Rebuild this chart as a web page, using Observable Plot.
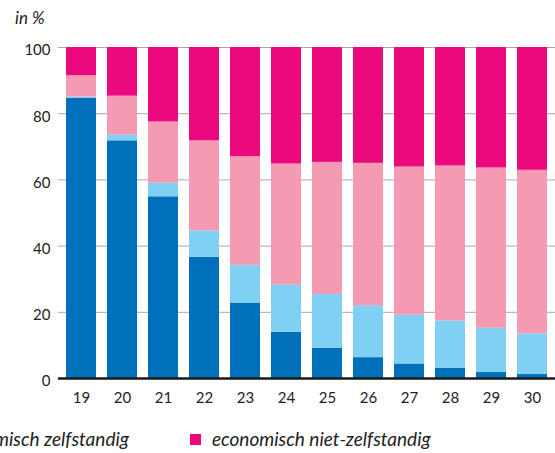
<!DOCTYPE html>
<html>
<head>
<meta charset="utf-8">
<script src="https://cdn.jsdelivr.net/npm/d3@7"></script>
<script src="https://cdn.jsdelivr.net/npm/@observablehq/plot@0.6"></script>
<style>
  html, body { margin: 0; padding: 0; background: #fff; overflow: hidden; }
  body { width: 555px; height: 453px; position: relative; font-family: Lato, sans-serif; color: #222; }
  #unit { position: absolute; left: 15px; top: 8px; font-style: italic; font-size: 17px; line-height: 20px; }
  #chart { position: absolute; left: 0; top: 0; }
  .item { position: absolute; top: 428px; white-space: nowrap; font-style: italic; font-size: 19px; line-height: 22px; display: flex; align-items: center; }
  .sw { width: 11px; height: 11px; display: inline-block; margin-right: 11px; }
</style>
</head>
<body>
<div id="unit">in %</div>
<div id="chart"></div>
<script>
const ages = ["19","20","21","22","23","24","25","26","27","28","29","30"];
const seriesNames = ["economisch zelfstandig", "categorie 2", "categorie 3", "economisch niet-zelfstandig"];
const darkBlue = [84.7, 71.8, 54.9, 36.6, 22.8, 14.0, 9.1, 6.3, 4.4, 3.1, 1.8, 1.2];
const lightBlue = [0.3, 1.7, 4.1, 8.0, 11.4, 14.2, 16.3, 15.7, 14.7, 14.3, 13.4, 12.3];
const pink = [6.5, 11.8, 18.5, 27.2, 32.8, 36.6, 39.9, 43.0, 44.8, 46.8, 48.4, 49.4];
const magenta = [8.5, 14.7, 22.5, 28.2, 33.0, 35.2, 34.7, 35.0, 36.1, 35.8, 36.4, 37.1];
const yTicks = [0, 20, 40, 60, 80, 100];
const colors = ["#0070ba", "#7fd0f3", "#f49ab2", "#ec087d"];

const seriesValues = [darkBlue, lightBlue, pink, magenta];
const data = [];
seriesNames.forEach((s, i) => ages.forEach((a, j) => data.push({age: a, serie: s, value: seriesValues[i][j]})));

const chart = Plot.plot({
  width: 555,
  height: 415,
  marginLeft: 58,
  marginRight: 0,
  marginTop: 47,
  marginBottom: 37,
  style: {fontFamily: "Lato, sans-serif", fontSize: "15px", color: "#222"},
  x: {domain: ages, paddingInner: 0.27, paddingOuter: 0.15, label: null},
  y: {domain: [0, 100], label: null},
  color: {domain: seriesNames, range: colors},
  marks: [
    Plot.gridY(yTicks, {stroke: "#a8a8a8", strokeOpacity: 1, strokeWidth: 1}),
    Plot.barY(data, {x: "age", y: "value", fill: "serie", order: seriesNames}),
    Plot.ruleY([0], {stroke: "#1a1a1a", strokeWidth: 2.5}),
    Plot.axisY(yTicks, {tickSize: 0, tickPadding: 8, dy: 3, label: null, fontSize: 15}),
    Plot.axisX({tickSize: 0, tickPadding: 14, label: null, fontSize: 15})
  ]
});
document.getElementById("chart").appendChild(chart);

// legend: first item's text ends near x=128 (cut off at the left edge), second item starts at x=190
function legendItem(i, pos) {
  const it = document.createElement("div");
  it.className = "item";
  Object.assign(it.style, pos);
  const sw = document.createElement("span");
  sw.className = "sw";
  sw.style.background = colors[i];
  it.appendChild(sw);
  it.appendChild(document.createTextNode(seriesNames[i]));
  document.body.appendChild(it);
}
legendItem(0, {right: (555 - 129) + "px"});
legendItem(3, {left: "190px"});
</script>
</body>
</html>
